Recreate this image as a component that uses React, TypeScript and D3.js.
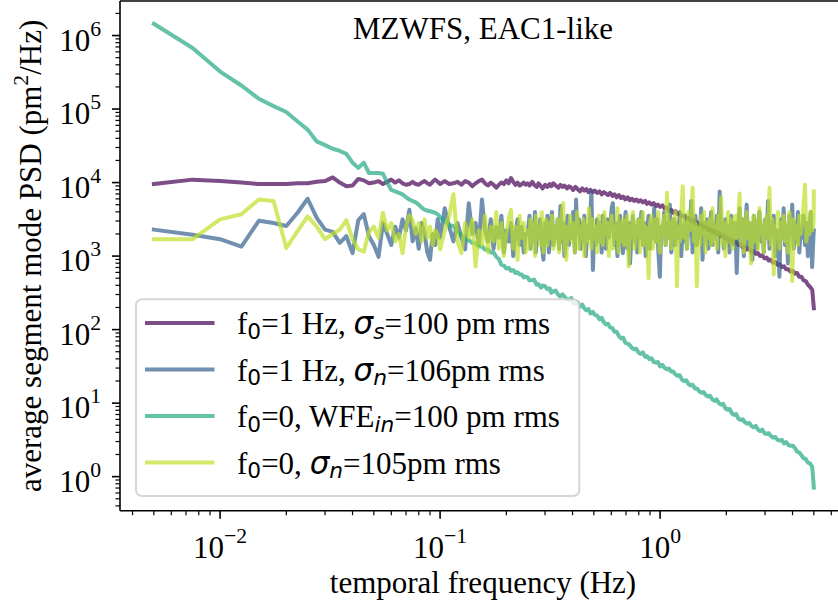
import React from "react";
import * as d3 from "d3";

// ---------- data ----------
// frequency resolution (Hz per bin) and the bins that are plotted
const DF = 0.0025;
const lowBins = [
  2, 3, 4, 5, 6, 7, 8, 9, 10, 11, 12, 13, 14, 15, 16, 17, 18, 19, 20, 21, 22, 23, 24, 25, 26, 27, 28, 29, 30, 31, 32, 33, 34, 35, 36, 37, 38, 39, 40,
  42, 44, 46, 48, 50, 52, 54, 56, 58, 60, 62, 64, 66, 68, 70, 72, 74, 76, 78, 80, 82, 84, 86, 88, 90, 92, 94, 96, 98,
];
// bins above 0.25 Hz for the smooth series
const highBins = [
  100, 102, 105, 107, 110, 112, 115, 117, 120, 123, 126, 128, 131, 134, 138, 141, 144, 147, 151, 154,
  158, 161, 165, 169, 173, 177, 181, 185, 189, 193, 198, 202, 207, 212, 217, 222, 227, 232, 237, 243,
  248, 254, 260, 266, 272, 278, 285, 291, 298, 305, 312, 319, 326, 334, 342, 349, 357, 366, 374, 383,
  391, 400, 410, 419, 429, 439, 449, 459, 470, 480, 491, 503, 514, 526, 538, 551, 563, 576, 589, 603,
  617, 631, 645, 660, 675, 691, 707, 723, 740, 757, 774, 792, 810, 829, 848, 867, 887, 908, 929, 950,
  972, 994, 1017, 1040, 1064, 1089, 1114, 1140, 1166, 1193, 1220, 1248, 1277, 1306, 1336, 1367, 1399, 1431, 1464, 1497,
  1532, 1567, 1603, 1640, 1678, 1716, 1756, 1796, 1837, 1880, 1923, 1967, 2000,
];
// denser bins above 0.25 Hz for the noisy series
const denseBins = [
  100, 102, 103, 105, 106, 108, 109, 111, 113, 114, 116, 118, 120, 121, 123, 125, 127, 129, 131, 133,
  135, 137, 139, 141, 143, 145, 147, 150, 152, 154, 156, 159, 161, 164, 166, 168, 171, 174, 176, 179,
  181, 184, 187, 190, 193, 195, 198, 201, 204, 207, 211, 214, 217, 220, 223, 227, 230, 234, 237, 241,
  244, 248, 252, 256, 259, 263, 267, 271, 275, 279, 284, 288, 292, 297, 301, 306, 310, 315, 319, 324,
  329, 334, 339, 344, 349, 355, 360, 365, 371, 376, 382, 388, 393, 399, 405, 411, 418, 424, 430, 437,
  443, 450, 457, 463, 470, 477, 485, 492, 499, 507, 514, 522, 530, 538, 546, 554, 562, 571, 579, 588,
  597, 606, 615, 624, 634, 643, 653, 663, 672, 683, 693, 703, 714, 724, 735, 746, 758, 769, 780, 792,
  804, 816, 828, 841, 853, 866, 879, 892, 906, 919, 933, 947, 961, 976, 990, 1005, 1020, 1036, 1051, 1067,
  1083, 1099, 1116, 1132, 1149, 1167, 1184, 1202, 1220, 1238, 1257, 1276, 1295, 1314, 1334, 1354, 1374, 1395, 1416, 1437,
  1458, 1480, 1503, 1525, 1548, 1571, 1595, 1619, 1643, 1668, 1693, 1718, 1744, 1770, 1796, 1823, 1851, 1879, 1907, 1935,
  1964, 1994, 2000,
];

// log10 of PSD (pm^2/Hz)
// f0 = 1 Hz, sigma_s = 100 pm rms  (lowBins + highBins)
const signalF1Log10 = [
  3.98, 4.04, 4.02, 4.0, 3.98, 3.98, 3.98, 3.99, 3.99, 4.01, 4.02, 4.07, 4.0, 3.95, 3.96, 4.05, 4.03, 3.99, 4.0, 4.02,
  3.98, 4.01, 4.04, 4.0, 4.03, 3.99, 3.97, 3.98, 4.01, 3.98, 3.97, 4.0, 4.02, 3.99, 3.97, 4.01, 4.04, 4.01, 3.98,
  4.02, 3.98, 3.99, 4.01, 3.97, 4.02, 4.0, 3.95, 3.99, 4.02, 4.04, 3.99, 3.96, 4.0, 3.97, 3.93, 3.97, 4.0, 3.98, 4.03,
  3.99, 4.06, 4.01, 3.97, 4.0, 3.96, 3.98, 4.0, 3.97,
  3.99, 3.96, 4.01, 3.97, 3.94, 3.99, 3.95, 3.92, 3.97, 3.94, 3.98,
  3.95, 3.99, 3.96, 3.93, 3.97, 3.94, 3.96, 3.92, 3.95, 3.93,
  3.9, 3.94, 3.91, 3.88, 3.92, 3.89, 3.91, 3.87, 3.9, 3.87,
  3.89, 3.86, 3.88, 3.84, 3.87, 3.85, 3.83, 3.86, 3.82, 3.84,
  3.8, 3.83, 3.79, 3.81, 3.77, 3.8, 3.76, 3.78, 3.75, 3.77,
  3.74, 3.76, 3.73, 3.75, 3.71, 3.73, 3.7, 3.72, 3.68, 3.7,
  3.67, 3.69, 3.65, 3.66, 3.61, 3.63, 3.59, 3.61, 3.57, 3.58,
  3.54, 3.55, 3.51, 3.52, 3.48, 3.49, 3.45, 3.46, 3.42, 3.43,
  3.39, 3.4, 3.36, 3.37, 3.33, 3.34, 3.3, 3.31, 3.27, 3.28,
  3.24, 3.25, 3.21, 3.22, 3.18, 3.19, 3.15, 3.16, 3.12, 3.13,
  3.09, 3.1, 3.06, 3.07, 3.03, 3.04, 3.0, 3.01, 2.97, 2.98,
  2.94, 2.95, 2.91, 2.92, 2.88, 2.89, 2.85, 2.86, 2.82, 2.82,
  2.79, 2.8, 2.76, 2.77, 2.72, 2.72, 2.67, 2.66, 2.61, 2.58, 2.54,
  2.29,
];

// f0 = 1 Hz, sigma_n = 106 pm rms  (lowBins + denseBins)
const noiseF1Log10 = [
  3.36, 3.29, 3.23, 3.13, 3.48, 3.45, 3.41, 3.59, 3.78, 3.52, 3.36, 3.33, 3.18, 3.27, 3.04, 3.49, 3.57, 3.27, 3.15, 2.99,
  3.45, 3.3, 3.15, 3.4, 3.25, 3.5, 3.35, 3.63, 3.2, 3.38, 3.1, 3.45, 3.3, 3.05, 2.95, 3.3, 3.15, 3.5, 3.25,
  3.65, 3.4, 3.2, 3.45, 3.25, 3.09, 3.72, 3.3, 3.45, 3.15, 3.77, 3.35, 3.2, 3.5, 3.1, 3.4, 3.25, 3.55, 3.05, 3.35,
  3.2, 3.45, 3.0, 3.3, 3.5, 3.15, 3.4, 3.05, 3.3,
  3.3, 3.55, 3.1, 3.45, 3.2, 3.6, 3.05, 3.4, 3.25, 3.5,
  3.15, 2.95, 3.45, 3.2, 3.55, 3.05, 3.35, 3.6, 3.15, 3.4,
  3.25, 3.5, 3.1, 3.68, 3.2, 3.45, 3.0, 3.35, 3.55, 3.15,
  3.4, 3.25, 3.6, 3.05, 3.77, 3.3, 3.5, 3.1, 3.45, 3.2,
  3.55, 3.0, 3.4, 3.25, 3.6, 3.88, 2.81, 3.35, 3.15, 3.5,
  3.2, 3.45, 3.05, 3.55, 3.3, 3.1, 3.5, 3.25, 3.4, 3.65,
  3.72, 3.15, 3.45, 3.0, 3.35, 3.55, 3.2, 3.04, 3.4, 3.6,
  3.1, 3.45, 2.9, 3.3, 3.55, 3.2, 3.4, 3.05, 3.5, 3.25,
  3.6, 3.15, 3.45, 3.0, 3.35, 3.55, 3.1, 3.4, 3.25, 3.65,
  3.2, 3.5, 3.05, 2.72, 3.4, 3.3, 3.6, 3.15, 3.45, 3.25,
  3.7, 3.05, 3.35, 3.5, 3.15, 3.45, 3.25, 3.6, 3.0, 3.4,
  3.2, 3.55, 3.1, 3.45, 3.3, 3.75, 3.05, 3.35, 3.55, 3.15,
  3.4, 3.25, 3.65, 2.95, 3.45, 3.2, 3.5, 3.1, 3.35, 3.6,
  3.15, 3.45, 3.25, 3.55, 3.05, 3.88, 3.3, 3.45, 3.1, 3.5,
  3.2, 3.4, 3.05, 3.55, 3.3, 3.15, 3.45, 2.77, 3.4, 3.65,
  3.2, 3.5, 3.0, 3.35, 3.7, 3.15, 3.45, 3.25, 2.95, 3.55,
  3.3, 3.1, 3.45, 3.6, 3.2, 3.4, 3.05, 3.5, 3.25, 3.75,
  3.1, 3.45, 3.3, 3.55, 3.0, 3.35, 3.2, 2.72, 3.5, 3.25,
  3.65, 3.15, 3.4, 2.9, 3.55, 3.3, 3.7, 3.1, 3.45, 3.2,
  3.6, 3.05, 3.4, 3.25, 3.55, 3.15, 3.45, 3.0, 3.35, 3.6,
  2.85, 3.3, 3.35,
];

// f0 = 0, WFE_in = 100 pm rms  (lowBins + highBins)
const wfeF0Log10 = [
  6.16, 5.83, 5.51, 5.32, 5.14, 5.04, 4.96, 4.83, 4.72, 4.56, 4.51, 4.46, 4.43, 4.39, 4.27, 4.2, 4.27, 4.13, 4.13, 4.13,
  4.12, 4.0, 3.9, 3.88, 3.86, 3.84, 3.8, 3.77, 3.75, 3.73, 3.7, 3.66, 3.63, 3.62, 3.61, 3.6, 3.59, 3.57, 3.53,
  3.47, 3.42, 3.41, 3.33, 3.29, 3.23, 3.22, 3.18, 3.17, 3.13, 3.13, 3.09, 3.09, 3.05, 3.05, 2.99, 2.96, 2.88, 2.87, 2.83,
  2.84, 2.8, 2.81, 2.77, 2.78, 2.75, 2.75, 2.71, 2.72,
  2.71, 2.67, 2.67, 2.68, 2.61, 2.62, 2.57, 2.6, 2.59,
  2.55, 2.56, 2.5, 2.52, 2.53, 2.47, 2.45,
  2.48, 2.45, 2.41, 2.4, 2.43, 2.36, 2.35, 2.37,
  2.31, 2.34, 2.29, 2.26, 2.28, 2.22, 2.24,
  2.2, 2.19, 2.14, 2.16, 2.1, 2.07, 2.08, 2.03,
  2.02, 1.97, 1.97, 1.91, 1.88, 1.89, 1.82, 1.81,
  1.79, 1.75, 1.73, 1.74, 1.69, 1.67, 1.69, 1.63, 1.64,
  1.6, 1.61, 1.56, 1.55, 1.56, 1.5, 1.52, 1.48, 1.46, 1.47, 1.43,
  1.43, 1.39, 1.37, 1.38, 1.32, 1.3, 1.31, 1.26, 1.24, 1.25,
  1.2, 1.2, 1.16, 1.14, 1.15, 1.11, 1.09, 1.1, 1.05, 1.03, 1.05, 1.0, 0.98,
  0.99, 0.93, 0.91, 0.92, 0.86, 0.84, 0.85, 0.79, 0.77, 0.78, 0.74, 0.72,
  0.73, 0.69, 0.67, 0.69, 0.64, 0.62, 0.64, 0.59, 0.58, 0.59, 0.55, 0.53,
  0.54, 0.5, 0.49, 0.5, 0.45, 0.47, 0.43, 0.42, 0.42,
  0.39, 0.34, 0.33, 0.29, 0.25, 0.24, 0.19, 0.18, 0.13,
  -0.15,
];

// f0 = 0, sigma_n = 105 pm rms  (lowBins + denseBins)
const noiseF0Log10 = [
  3.23, 3.23, 3.5, 3.57, 3.77, 3.75, 3.11, 3.34, 3.54, 3.4, 3.23, 3.3, 3.36, 3.49, 3.23, 3.09, 3.06, 3.33, 3.4, 3.25,
  3.59, 3.35, 3.45, 3.2, 3.3, 3.04, 3.4, 3.55, 3.49, 3.3, 3.45, 3.2, 3.5, 3.25, 3.4, 3.15, 3.35, 3.3, 3.09,
  3.35, 3.55, 3.84, 3.2, 3.04, 3.45, 3.25, 3.5, 2.86, 3.35, 3.15, 3.55, 3.05, 3.4, 3.2, 3.6, 3.1, 3.45, 3.0, 3.3,
  3.5, 3.63, 3.1, 3.4, 2.95, 3.55, 3.25, 3.45, 3.05,
  3.35, 3.1, 3.5, 3.2, 3.45, 3.0, 3.55, 3.25, 3.4, 3.15,
  3.6, 3.05, 3.35, 3.5, 3.15, 3.45, 3.25, 3.55, 3.1, 3.4,
  3.2, 3.5, 3.05, 3.35, 3.6, 3.72, 3.15, 2.95, 3.4, 3.25,
  3.55, 3.2, 3.45, 3.05, 3.35, 3.6, 3.1, 3.4, 3.25, 3.5,
  3.0, 3.45, 3.2, 3.65, 3.3, 3.1, 3.5, 3.25, 3.4, 3.05,
  3.55, 3.2, 3.4, 3.15, 3.6, 3.3, 3.45, 3.0, 3.35, 3.55,
  3.1, 3.4, 3.25, 3.65, 3.05, 3.45, 3.2, 3.5, 3.15, 3.35,
  3.55, 2.86, 3.4, 3.25, 3.6, 3.1, 3.45, 3.3, 3.5, 3.05,
  3.35, 3.6, 3.15, 3.4, 3.25, 2.7, 3.45, 3.55, 3.1, 3.35,
  3.5, 3.2, 3.6, 3.05, 3.4, 3.3, 3.55, 3.15, 3.86, 3.25,
  3.45, 3.1, 3.5, 3.3, 3.6, 2.59, 3.4, 3.2, 3.55, 3.95,
  3.25, 3.45, 3.1, 3.6, 3.35, 3.5, 3.93, 3.2, 3.45, 2.59,
  3.4, 3.15, 3.55, 3.3, 3.6, 3.05, 3.45, 3.25, 3.5, 3.15,
  3.65, 3.2, 3.4, 3.1, 3.55, 3.3, 3.8, 3.15, 3.45, 3.0,
  3.4, 3.6, 3.2, 3.5, 3.1, 3.35, 3.55, 3.25, 3.45, 3.85,
  3.15, 3.5, 3.05, 3.4, 3.6, 3.25, 3.45, 2.9, 3.35, 3.55,
  3.2, 3.5, 3.1, 3.65, 3.3, 3.45, 3.05, 3.4, 3.55, 3.25,
  3.93, 3.15, 3.5, 2.75, 3.4, 3.3, 3.6, 3.1, 3.45, 3.25,
  3.55, 3.2, 3.45, 3.05, 3.6, 3.35, 2.66, 3.5, 3.25, 3.4,
  3.15, 3.55, 3.3, 3.45, 3.7, 3.97, 3.2, 3.5, 3.3, 3.6,
  3.35, 3.45, 3.88,
];

const seriesLog10 = [signalF1Log10, noiseF1Log10, wfeF0Log10, noiseF0Log10];
const seriesBins = [
  lowBins.concat(highBins),
  lowBins.concat(denseBins),
  lowBins.concat(highBins),
  lowBins.concat(denseBins),
];
const seriesColorT = [0, 0.3, 0.6, 0.9];

// legend labels: [text, kind]; kind: "" normal, "sub" subscript digit, "m" math italic, "msub" math italic subscript
const legendLabels: [string, string][][] = [
  [["f", ""], ["0", "sub"], ["=1 Hz, ", ""], ["σ", "m"], ["s", "msub"], ["=100 pm rms", ""]],
  [["f", ""], ["0", "sub"], ["=1 Hz, ", ""], ["σ", "m"], ["n", "msub"], ["=106pm rms", ""]],
  [["f", ""], ["0", "sub"], ["=0, WFE", ""], ["in", "msub"], ["=100 pm rms", ""]],
  [["f", ""], ["0", "sub"], ["=0, ", ""], ["σ", "m"], ["n", "msub"], ["=105pm rms", ""]],
];

const titleText = "MZWFS, EAC1-like";
const xLabelText = "temporal frequency (Hz)";
const xTickExps = [-2, -1, 0];
const yTickExps = [0, 1, 2, 3, 4, 5, 6];
const xDomain = [0.003508, 7.0];
const yDomain = [0.344, 2.95e6];

// ---------- layout ----------
const W = 838;
const H = 610;
const PL = 120;
const PR = 846;
const PT = 1;
const PB = 510.7;
const SERIF = "'Liberation Serif', 'Times New Roman', Times, serif";
const SANS = "'DejaVu Sans', sans-serif";
const FS = 31;
const SUPFS = 21.7;

export default function App() {
  const x = d3.scaleLog().domain(xDomain).range([PL, PR]);
  const y = d3.scaleLog().domain(yDomain).range([PB, PT]);
  const line = d3
    .line<[number, number]>()
    .x((d) => x(d[0]))
    .y((d) => y(d[1]));

  const paths = seriesLog10.map((vals, s) => {
    const bins = seriesBins[s];
    const n = Math.min(bins.length, vals.length);
    const pts: [number, number][] = [];
    for (let i = 0; i < n; i++) pts.push([bins[i] * DF, Math.pow(10, vals[i])]);
    return line(pts);
  });
  const colors = seriesColorT.map((t) => d3.interpolateViridis(t));

  const xMinor: number[] = [];
  for (let e = -3; e <= 0; e++)
    for (let m = 2; m <= 9; m++) {
      const v = m * Math.pow(10, e);
      if (v > xDomain[0] && v < xDomain[1]) xMinor.push(v);
    }
  const yMinor: number[] = [];
  for (let e = -1; e <= 6; e++)
    for (let m = 2; m <= 9; m++) {
      const v = m * Math.pow(10, e);
      if (v > yDomain[0] && v < yDomain[1]) yMinor.push(v);
    }

  const legX = 136;
  const legY = 299.3;
  const legW = 443.3;
  const legH = 196.7;
  const rowBase = [334, 380.5, 427, 473.5];

  const renderLabel = (parts: [string, string][]) => {
    let shift = 0;
    return parts.map(([t, kind], i) => {
      const isSub = kind === "sub" || kind === "msub";
      const target = isSub ? 4.5 : 0;
      const dy = target - shift;
      shift = target;
      return (
        <tspan
          key={i}
          dy={dy}
          fontFamily={kind === "" ? SERIF : SANS}
          fontStyle={kind === "m" || kind === "msub" ? "italic" : "normal"}
          fontSize={isSub ? SUPFS : FS}
        >
          {t}
        </tspan>
      );
    });
  };

  return (
    <svg
      width={W}
      height={H}
      style={{ position: "absolute", left: 0, top: 0, background: "#fff" }}
      fontFamily={SERIF}
    >
      <defs>
        <clipPath id="plotclip">
          <rect x={PL} y={PT} width={PR - PL} height={PB - PT} />
        </clipPath>
      </defs>
      <rect x={0} y={0} width={W} height={H} fill="#fff" />

      <g clipPath="url(#plotclip)">
        {paths.map((d, i) => (
          <path
            key={i}
            d={d || ""}
            fill="none"
            stroke={colors[i]}
            strokeOpacity={0.7}
            strokeWidth={4}
            strokeLinejoin="round"
            strokeLinecap="square"
          />
        ))}
      </g>

      {/* title */}
      <text x={(PL + PR) / 2} y={38.5} textAnchor="middle" fontSize={FS} fill="#000">
        {titleText}
      </text>

      {/* legend */}
      <rect
        x={legX}
        y={legY}
        width={legW}
        height={legH}
        rx={6}
        fill="#fff"
        fillOpacity={0.8}
        stroke="#cccccc"
        strokeOpacity={0.8}
        strokeWidth={2}
      />
      {legendLabels.map((parts, i) => (
        <g key={i}>
          <line
            x1={147}
            x2={212.5}
            y1={rowBase[i] - 11}
            y2={rowBase[i] - 11}
            stroke={colors[i]}
            strokeOpacity={0.7}
            strokeWidth={4}
            strokeLinecap="square"
          />
          <text x={237} y={rowBase[i]} fontSize={FS} fill="#000" style={{ whiteSpace: "pre" }}>
            {renderLabel(parts)}
          </text>
        </g>
      ))}

      {/* spines */}
      <g stroke="#000" strokeWidth={1.6} fill="none">
        <line x1={PL} x2={PL} y1={PT} y2={PB} />
        <line x1={PL} x2={PR} y1={PB} y2={PB} />
        <line x1={PL} x2={PR} y1={PT} y2={PT} />
        <line x1={PR} x2={PR} y1={PT} y2={PB} />
      </g>

      {/* x ticks */}
      <g stroke="#000">
        {xTickExps.map((e) => (
          <line key={e} x1={x(Math.pow(10, e))} x2={x(Math.pow(10, e))} y1={PB} y2={PB + 8} strokeWidth={1.6} />
        ))}
        {xMinor.map((v, i) => (
          <line key={i} x1={x(v)} x2={x(v)} y1={PB} y2={PB + 4.5} strokeWidth={1.2} />
        ))}
      </g>
      {xTickExps.map((e) => (
        <text key={e} x={x(Math.pow(10, e))} y={558} textAnchor="middle" fontSize={FS} fill="#000">
          <tspan>10</tspan>
          <tspan dy={-15} fontSize={SUPFS}>
            {e < 0 ? "\u2212" + Math.abs(e) : String(e)}
          </tspan>
        </text>
      ))}

      {/* y ticks */}
      <g stroke="#000">
        {yTickExps.map((e) => (
          <line key={e} y1={y(Math.pow(10, e))} y2={y(Math.pow(10, e))} x1={PL} x2={PL - 8} strokeWidth={1.6} />
        ))}
        {yMinor.map((v, i) => (
          <line key={i} y1={y(v)} y2={y(v)} x1={PL} x2={PL - 4.5} strokeWidth={1.2} />
        ))}
      </g>
      {yTickExps.map((e) => (
        <text key={e} x={101} y={y(Math.pow(10, e)) + 15} textAnchor="end" fontSize={FS} fill="#000">
          <tspan>10</tspan>
          <tspan dy={-15} fontSize={SUPFS}>
            {String(e)}
          </tspan>
        </text>
      ))}

      {/* axis labels */}
      <text x={(PL + PR) / 2} y={593} textAnchor="middle" fontSize={FS} fill="#000">
        {xLabelText}
      </text>
      <text
        transform={`translate(41, ${(PT + PB) / 2}) rotate(-90)`}
        textAnchor="middle"
        fontSize={FS}
        fill="#000"
      >
        <tspan>average segment mode PSD (pm</tspan>
        <tspan dy={-13} fontSize={SUPFS}>
          2
        </tspan>
        <tspan dy={13}>/Hz)</tspan>
      </text>
    </svg>
  );
}
